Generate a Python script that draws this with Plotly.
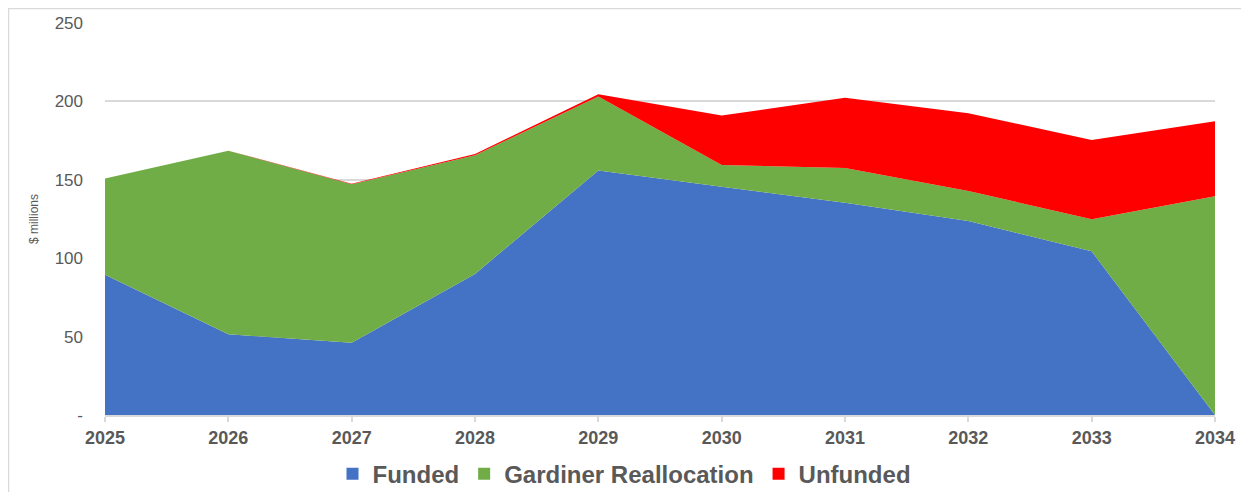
import plotly.graph_objects as go

years = [2025, 2026, 2027, 2028, 2029, 2030, 2031, 2032, 2033, 2034]
funded = [89.5, 51.5, 46, 90, 156, 145.6, 135.4, 123.8, 104.4, 0]
gardiner = [61.3, 117.1, 101.1, 75.6, 47.2, 13.8, 22.1, 19.1, 20.4, 139.5]
unfunded = [0, 0, 0.4, 0.9, 1.3, 31.6, 44.9, 49.5, 50.6, 47.8]

tick_vals = [0, 50, 100, 150, 200, 250]
tick_text = ["-", "50", "100", "150", "200", "250"]

series = [
    ("Funded", funded, "#4472C4"),
    ("Gardiner Reallocation", gardiner, "#70AD47"),
    ("Unfunded", unfunded, "#FF0000"),
]

# page has an 8px body margin, so the figure is sized to fit inside it
W, H = 1233, 484
L, R, T, B = 97, 26, 15, 77

fig = go.Figure()
for name, vals, col in series:
    fig.add_trace(go.Scatter(
        x=years, y=vals, name=name, stackgroup="one", mode="none",
        fillcolor=col, showlegend=False, hoverinfo="x+y+name",
    ))
for name, vals, col in series:
    fig.add_trace(go.Scatter(
        x=[None], y=[None], name=name, mode="markers",
        marker=dict(symbol="square", size=12, color=col), showlegend=True,
    ))

# light grey outer frame like the source chart border
pw, ph = W - L - R, H - T - B
def px_x(p):
    return (p - L) / pw
def px_y(p):
    return (H - B - p) / ph
fig.add_shape(type="line", xref="paper", yref="paper",
              x0=px_x(0), x1=px_x(W + 5), y0=px_y(0.5), y1=px_y(0.5),
              line=dict(color="#d9d9d9", width=1.5))
fig.add_shape(type="line", xref="paper", yref="paper",
              x0=px_x(0.5), x1=px_x(0.5), y0=px_y(0), y1=px_y(H + 5),
              line=dict(color="#d9d9d9", width=1.5))

fig.update_layout(
    width=W, height=H,
    margin=dict(l=L, r=R, t=T, b=B, autoexpand=False),
    paper_bgcolor="white", plot_bgcolor="white",
    font=dict(family="Liberation Sans, Arial, sans-serif", color="#595959"),
    xaxis=dict(
        range=[2025, 2034], tickvals=years, ticktext=[str(y) for y in years],
        tickfont=dict(size=18, color="#595959", family="Liberation Sans, Arial, sans-serif", weight="bold"),
        showgrid=False, zeroline=False, showline=True, linecolor="#d9d9d9", linewidth=1.5,
        ticks="outside", ticklen=5, tickcolor="#d9d9d9", tickwidth=1.5,
        ticklabelstandoff=1,
        fixedrange=True,
    ),
    yaxis=dict(
        range=[0, 250], tickvals=tick_vals, ticktext=tick_text,
        tickfont=dict(size=17, color="#595959"),
        showgrid=True, gridcolor="#d9d9d9", gridwidth=1.5,
        zeroline=False, showline=False, ticks="", ticklabelstandoff=21,
        title=dict(text="$ millions", font=dict(size=12, color="#595959"), standoff=13),
        fixedrange=True,
    ),
    legend=dict(
        orientation="h", xref="container", yref="container",
        x=0.5, xanchor="center", y=0.037, yanchor="middle",
        font=dict(size=24, color="#595959", weight="bold"),
        itemwidth=30, tracegroupgap=0, traceorder="normal",
    ),
)

fig.write_html("out.html")
